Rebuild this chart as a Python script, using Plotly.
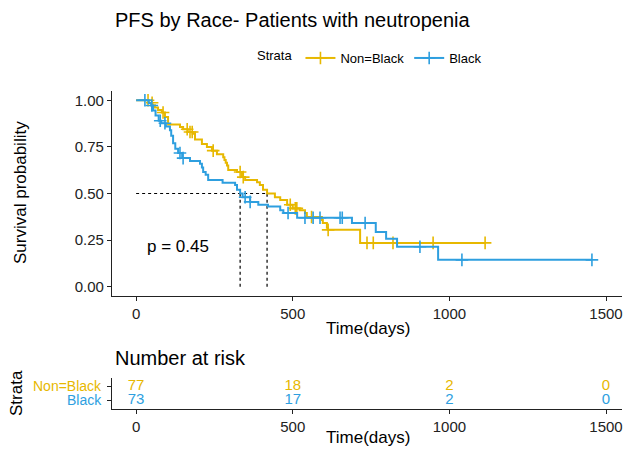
import plotly.graph_objects as go

# ---------------- data ----------------
black_time = [0, 40, 48, 54, 62, 72, 80, 95, 108, 112, 118, 125, 134, 147, 172, 204, 210, 214, 222, 230,
              276, 316, 322, 332, 340, 364, 390, 421, 460, 470, 514, 689, 765, 798, 833, 964]
black_surv = [1.0, 0.986, 0.972, 0.945, 0.918, 0.89, 0.877, 0.86, 0.84, 0.81, 0.77, 0.74, 0.717, 0.69, 0.675,
              0.66, 0.64, 0.615, 0.60, 0.572, 0.558, 0.545, 0.52, 0.50, 0.48, 0.455, 0.44, 0.43, 0.41, 0.395,
              0.37, 0.342, 0.294, 0.257, 0.214, 0.144]
black_censor = [28, 50, 77, 92, 140, 150, 348, 364, 485, 539, 565, 587, 651, 658, 731, 906, 1040, 1455]

nonblack_time = [0, 40, 52, 60, 70, 82, 92, 102, 140, 150, 165, 180, 188, 210, 226, 242, 258, 278, 282, 286,
                 290, 294, 322, 338, 348, 386, 395, 405, 418, 443, 460, 482, 500, 522, 539, 545, 593, 596,
                 609, 612, 715]
nonblack_surv = [1.0, 0.987, 0.974, 0.961, 0.948, 0.935, 0.91, 0.87, 0.857, 0.845, 0.83, 0.82, 0.79, 0.765,
                 0.75, 0.73, 0.71, 0.695, 0.68, 0.665, 0.65, 0.626, 0.615, 0.588, 0.572, 0.56, 0.545, 0.52,
                 0.50, 0.48, 0.465, 0.44, 0.42, 0.41, 0.395, 0.374, 0.358, 0.342, 0.316, 0.305, 0.235]
nonblack_censor = [38, 51, 86, 163, 172, 179, 246, 332, 342, 492, 508, 513, 560, 613, 737, 757, 820, 948, 1114]

risk_times = [0, 500, 1000, 1500]
risk_nonblack = [77, 18, 2, 0]
risk_black = [73, 17, 2, 0]

p_value_text = "p = 0.45"
x_ticks = [0, 500, 1000, 1500]
y_ticks = [0, 0.25, 0.5, 0.75, 1.0]
y_ticktext = ["0.00", "0.25", "0.50", "0.75", "1.00"]

YELLOW = "#E7B800"
BLUE = "#2E9FDF"
FONT = "Liberation Sans, Arial, sans-serif"
W, H = 627, 450


def surv_at(times, surv, t):
    s = surv[0]
    for ti, si in zip(times, surv):
        if ti <= t:
            s = si
        else:
            break
    return s


def median(times, surv):
    for ti, si in zip(times, surv):
        if si <= 0.5:
            return ti
    return None


def px_y(p):
    return 1 - p / H


def px_x(p):
    return p / W


fig = go.Figure()

groups = [
    ("Non=Black", nonblack_time, nonblack_surv, nonblack_censor, YELLOW),
    ("Black", black_time, black_surv, black_censor, BLUE),
]

# median lines (drawn first, under curves)
med_nb = median(nonblack_time, nonblack_surv)
med_b = median(black_time, black_surv)
dash = dict(color="black", width=1.2, dash="3px,3px")
fig.add_trace(go.Scatter(x=[0, max(med_nb, med_b)], y=[0.5, 0.5], mode="lines", line=dash,
                         showlegend=False, hoverinfo="skip", xaxis="x", yaxis="y"))
for m in (med_b, med_nb):
    fig.add_trace(go.Scatter(x=[m, m], y=[0, 0.5], mode="lines", line=dash,
                             showlegend=False, hoverinfo="skip", xaxis="x", yaxis="y"))

for name, t, s, c, col in groups:
    last = max(c[-1], t[-1])
    xs = list(t) + [last]
    ys = list(s) + [s[-1]]
    fig.add_trace(go.Scatter(x=xs, y=ys, mode="lines", line=dict(color=col, width=2, shape="hv"),
                             showlegend=False, xaxis="x", yaxis="y"))
    fig.add_trace(go.Scatter(x=c, y=[surv_at(t, s, ci) for ci in c], mode="markers",
                             marker=dict(symbol="cross-thin", size=9, line=dict(color=col, width=1.6)),
                             showlegend=False, xaxis="x", yaxis="y"))
    # legend entry
    fig.add_trace(go.Scatter(x=[None], y=[None], mode="lines+markers", name=name,
                             line=dict(color=col, width=2),
                             marker=dict(symbol="cross-thin", size=9, line=dict(color=col, width=1.6)),
                             xaxis="x", yaxis="y"))

# risk table numbers
fig.add_trace(go.Scatter(x=risk_times, y=[2] * len(risk_times), mode="text",
                         text=[str(v) for v in risk_nonblack], textfont=dict(color=YELLOW, size=15, family=FONT),
                         showlegend=False, xaxis="x2", yaxis="y2"))
fig.add_trace(go.Scatter(x=risk_times, y=[1] * len(risk_times), mode="text",
                         text=[str(v) for v in risk_black], textfont=dict(color=BLUE, size=15, family=FONT),
                         showlegend=False, xaxis="x2", yaxis="y2"))

xdom = [112 / W, 622 / W]
xrange_ = [-77, 1551]
axis_common = dict(showline=True, linecolor="#222", linewidth=1.2, ticks="outside", ticklen=4,
                   tickcolor="#222", showgrid=False, zeroline=False,
                   tickfont=dict(size=15, color="#222", family=FONT))

fig.update_layout(
    width=W, height=H,
    margin=dict(l=0, r=0, t=0, b=0),
    plot_bgcolor="white", paper_bgcolor="white",
    font=dict(family=FONT, color="black"),
    xaxis=dict(domain=xdom, range=xrange_, tickvals=x_ticks, anchor="y", **axis_common),
    yaxis=dict(domain=[1 - 296 / H, 1 - 91 / H], range=[-0.05, 1.05], tickvals=y_ticks,
               ticktext=y_ticktext, anchor="x", **axis_common),
    xaxis2=dict(domain=xdom, range=xrange_, tickvals=x_ticks, anchor="y2", **axis_common),
    yaxis2=dict(domain=[1 - 409 / H, 1 - 378 / H], range=[0.357, 2.571], tickvals=[1, 2],
                ticktext=["", ""], anchor="x2", **axis_common),
    legend=dict(orientation="h", x=px_x(371), y=px_y(58), xanchor="center", yanchor="middle",
                title=dict(text="Strata", font=dict(size=13, family=FONT)),
                font=dict(size=13, family=FONT), bgcolor="rgba(0,0,0,0)", itemwidth=30),
    showlegend=True,
)

ann = [
    dict(text="PFS by Race- Patients with neutropenia", x=px_x(113), y=px_y(20), xanchor="left",
         yanchor="middle", font=dict(size=20)),
    dict(text="Survival probability", x=px_x(20), y=px_y(193), textangle=-90, xanchor="center",
         yanchor="middle", font=dict(size=17)),
    dict(text="Time(days)", x=px_x(368), y=px_y(328), xanchor="center", yanchor="middle", font=dict(size=17)),
    dict(text="Number at risk", x=px_x(113), y=px_y(358), xanchor="left", yanchor="middle", font=dict(size=20)),
    dict(text="Strata", x=px_x(16), y=px_y(393), textangle=-90, xanchor="center", yanchor="middle",
         font=dict(size=17)),
    dict(text="Non=Black", x=px_x(104), y=px_y(386), xanchor="right", yanchor="middle",
         font=dict(size=14, color=YELLOW)),
    dict(text="Black", x=px_x(104), y=px_y(400), xanchor="right", yanchor="middle",
         font=dict(size=14, color=BLUE)),
    dict(text="Time(days)", x=px_x(368), y=0, xanchor="center", yanchor="bottom", yshift=1,
         font=dict(size=17)),
]
for a in ann:
    a.update(xref="paper", yref="paper", showarrow=False)
    a["font"].setdefault("family", FONT)
    a["font"].setdefault("color", "black")
fig.update_layout(annotations=ann)
fig.add_annotation(text=p_value_text, x=134, y=0.214, xref="x", yref="y", showarrow=False,
                   font=dict(size=17, family=FONT, color="black"))

fig.write_html("out.html")
